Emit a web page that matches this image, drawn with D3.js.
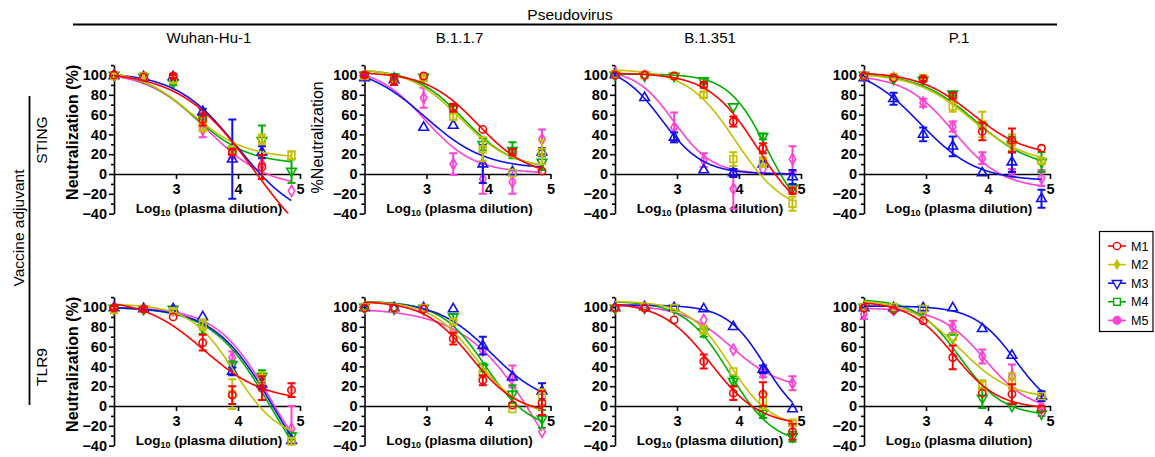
<!DOCTYPE html>
<html>
<head>
<meta charset="utf-8">
<script src="https://cdn.jsdelivr.net/npm/d3@7"></script>
<style>
  body { margin: 0; background: #fff; }
  svg { display: block; }
  text { font-family: Arial, "Liberation Sans", sans-serif; fill: #000; }
</style>
</head>
<body>
<svg id="chart" width="1155" height="457"></svg>
<script>
// log10 of the plasma dilutions (1:100 ... 1:72900, 3-fold steps)
const logDilution = [2, 2.477, 2.954, 3.431, 3.908, 4.386, 4.863];

const seriesNames = ["M1", "M2", "M3", "M4", "M5"];
const seriesColors = ["#ff0000", "#c2c000", "#1010ee", "#00b000", "#ff40d4"];
const plotSymbols = ["circle", "square", "triangleUp", "triangleDown", "diamond"];
const legendSymbols = ["circle", "smallDiamond", "triangleDown", "square", "filledCircle"];

const strainNames = ["Wuhan-Hu-1", "B.1.1.7", "B.1.351", "P.1"];
const adjuvantNames = ["STING", "TLR9"];
const yTicks = [-40, -20, 0, 20, 40, 60, 80, 100];
const yMinorTicks = [-30, -10, 10, 30, 50, 70, 90, 110];
const xTicks = [3, 4, 5];

// Mean % neutralization per mouse (rows M1..M5, columns follow logDilution); null = off scale
const stingWuhanValues = [
  [100, 98, 99, 55, 22, 7, null],
  [99, 99, 95, 48, 25, 35, 19],
  [99, 98, 98, 63, 15, 22, null],
  [100, 98, 92, 57, 24, 34, 3],
  [100, 98, 96, 45, 20, 10, -17]
];
const stingWuhanErrors = [
  [0, 0, 2, 6, 3, 12, 0],
  [2, 2, 3, 5, 3, 5, 4],
  [2, 0, 3, 3, 40, 6, 0],
  [0, 0, 2, 4, 3, 15, 12],
  [0, 0, 0, 8, 4, 0, 0]
];
// 4-parameter logistic fits: [top, bottom, logIC50, hill slope]
const stingWuhanFits = [
  [104, -100, 4.28, 0.72],
  [106, 16, 3.25, 1.0],
  [103, -50, 4.0, 0.87],
  [105, 10, 3.3, 1.0],
  [104, -14, 3.5, 0.9]
];

const stingB117Values = [
  [100, 95, 99, 67, 45, 22, 3],
  [99, 96, 97, 58, 25, 1, 22],
  [97, 95, 47, 49, 10, 2, 22],
  [100, 98, 98, 66, 30, 24, 12],
  [99, 97, 77, 10, -5, -8, 35]
];
const stingB117Errors = [
  [2, 5, 0, 4, 0, 3, 0],
  [3, 3, 2, 3, 12, 0, 12],
  [2, 0, 0, 0, 19, 0, 4],
  [3, 3, 0, 3, 6, 8, 8],
  [0, 0, 10, 11, 15, 12, 10]
];
const stingB117Fits = [
  [103, -3, 3.83, 1.05],
  [107, 5, 3.55, 1.05],
  [110, 5, 2.98, 0.9],
  [106, 5, 3.6, 1.1],
  [108, 1, 2.98, 1.1]
];

const stingB1351Values = [
  [100, 100, 99, 90, 53, 26, -17],
  [101, 100, 99, 80, 15, 12, -30],
  [100, 77, 37, 4, 1, 10, -3],
  [100, 100, 99, 94, 68, 38, -14],
  [102, 99, 47, 14, -15, 5, 15]
];
const stingB1351Errors = [
  [0, 0, 0, 3, 5, 5, 3],
  [0, 0, 0, 3, 7, 5, 7],
  [2, 0, 5, 0, 4, 3, 7],
  [0, 0, 0, 3, 0, 3, 0],
  [0, 0, 15, 7, 20, 0, 13]
];
const stingB1351Fits = [
  [102, -50, 4.3, 1.1],
  [106, -40, 3.95, 1.1],
  [110, 0, 2.75, 1.3],
  [101, -50, 4.45, 1.4],
  [106, 0, 2.95, 1.4]
];

const stingP1Values = [
  [99, 97, 96, 79, 43, 34, 26],
  [99, 98, 97, 68, 50, 32, 13],
  [97, 76, 40, 28, 1, 12, -25],
  [100, 96, 95, 81, 48, 30, 12],
  [99, 97, 72, 48, 16, 1, -4]
];
const stingP1Errors = [
  [0, 0, 2, 3, 9, 12, 0],
  [0, 0, 2, 5, 13, 8, 3],
  [0, 6, 7, 10, 0, 10, 9],
  [0, 0, 2, 2, 0, 8, 10],
  [0, 0, 4, 5, 6, 4, 8]
];
const stingP1Fits = [
  [103, 18, 3.75, 1.0],
  [102, 10, 3.72, 0.95],
  [110, -7, 2.9, 0.95],
  [102, 5, 3.8, 0.95],
  [100, -15, 3.45, 1.1]
];

const tlr9WuhanValues = [
  [99, 98, 90, 64, 11, 18, 16],
  [97, 98, 96, 82, 12, 28, -36],
  [99, 98, 98, 90, 35, 22, -35],
  [99, 98, 98, 79, 42, 30, -30],
  [99, 98, 97, 80, 49, 25, -23]
];
const tlr9WuhanErrors = [
  [2, 2, 0, 8, 9, 12, 7],
  [3, 0, 2, 5, 15, 6, 4],
  [0, 0, 2, 0, 4, 5, 0],
  [0, 0, 2, 6, 3, 6, 3],
  [0, 0, 0, 0, 6, 0, 23]
];
const tlr9WuhanFits = [
  [108, 5, 3.45, 0.9],
  [103, -35, 3.95, 1.2],
  [100, -100, 4.56, 0.92],
  [100, -100, 4.52, 0.92],
  [100, -85, 4.52, 1.0]
];

const tlr9B117Values = [
  [99, 99, 98, 68, 26, 1, 3],
  [100, 99, 99, 85, 33, -3, 9],
  [99, 99, 99, 98, 61, 29, 15],
  [100, 99, 99, 90, 39, 12, -13],
  [99, 98, 98, 77, 56, 30, -26]
];
const tlr9B117Errors = [
  [0, 0, 0, 6, 5, 0, 12],
  [0, 0, 0, 3, 0, 0, 8],
  [0, 0, 0, 0, 9, 0, 8],
  [0, 0, 0, 3, 4, 9, 9],
  [0, 0, 0, 0, 0, 11, 0]
];
const tlr9B117Fits = [
  [106, -8, 3.72, 1.15],
  [106, -10, 3.8, 1.2],
  [106, 0, 4.05, 1.0],
  [106, -25, 3.95, 1.2],
  [99, -150, 4.86, 0.72]
];

const tlr9B1351Values = [
  [99, 99, 87, 45, 13, 12, -26],
  [99, 100, 99, 77, 35, 5, -17],
  [99, 100, 99, 98, 80, 37, -3],
  [99, 100, 99, 75, 25, -7, -31],
  [99, 99, 99, 87, 57, 33, 23]
];
const tlr9B1351Errors = [
  [0, 0, 0, 7, 7, 12, 8],
  [0, 0, 0, 4, 0, 8, 3],
  [0, 0, 0, 0, 0, 4, 0],
  [0, 0, 0, 5, 5, 5, 5],
  [0, 0, 0, 0, 0, 4, 7]
];
const tlr9B1351Fits = [
  [105, -20, 3.55, 1.1],
  [106, -22, 3.85, 1.3],
  [102, -20, 4.42, 1.4],
  [106, -40, 3.85, 1.2],
  [102, 17, 3.88, 1.1]
];

const tlr9P1Values = [
  [99, 97, 86, 49, 13, 12, -3],
  [100, 100, 98, 70, 21, 25, 10],
  [99, 99, 99, 99, 78, 51, 10],
  [100, 99, 98, 69, 8, 0, -8],
  [93, 97, 92, 80, 50, 30, 0]
];
const tlr9P1Errors = [
  [0, 0, 0, 12, 0, 10, 0],
  [0, 0, 0, 0, 5, 8, 0],
  [0, 0, 0, 0, 0, 0, 5],
  [0, 0, 0, 0, 10, 0, 0],
  [5, 0, 0, 6, 7, 12, 10]
];
const tlr9P1Fits = [
  [106, -3, 3.45, 1.2],
  [108, 7, 3.55, 1.05],
  [101, -10, 4.45, 1.3],
  [108, -10, 3.55, 1.25],
  [99, -5, 3.95, 1.2]
];

const panelData = [
  [stingWuhanValues, stingWuhanErrors, stingWuhanFits],
  [stingB117Values, stingB117Errors, stingB117Fits],
  [stingB1351Values, stingB1351Errors, stingB1351Fits],
  [stingP1Values, stingP1Errors, stingP1Fits],
  [tlr9WuhanValues, tlr9WuhanErrors, tlr9WuhanFits],
  [tlr9B117Values, tlr9B117Errors, tlr9B117Fits],
  [tlr9B1351Values, tlr9B1351Errors, tlr9B1351Fits],
  [tlr9P1Values, tlr9P1Errors, tlr9P1Fits]
];

// ---------- layout ----------
const svg = d3.select("#chart");
const colLeft = [114, 364.5, 615, 864];
const panelWidth = 186;
const rowZero = [174, 406];
const pxPerUnit = 0.99;

const logistic = (p, x) => p[1] + (p[0] - p[1]) / (1 + Math.pow(10, (x - p[2]) * p[3]));

function symbolPath(kind) {
  const map = {
    circle: [d3.symbolCircle, 42, 0],
    filledCircle: [d3.symbolCircle, 46, 0],
    square: [d3.symbolSquare, 46, 0],
    triangleUp: [d3.symbolTriangle, 40, 0],
    triangleDown: [d3.symbolTriangle, 40, 180],
    diamond: [d3.symbolDiamond, 36, 0],
    smallDiamond: [d3.symbolDiamond, 22, 0]
  };
  const [type, size, rot] = map[kind];
  return { d: d3.symbol().type(type).size(size)(), rot };
}

// ---------- header ----------
svg.append("text").attr("x", 570).attr("y", 20).attr("text-anchor", "middle")
  .style("font-size", "15.5px").text("Pseudovirus");
svg.append("line").attr("x1", 73).attr("x2", 1057).attr("y1", 24.5).attr("y2", 24.5)
  .attr("stroke", "#000").attr("stroke-width", 1.8);

strainNames.forEach((s, i) => {
  svg.append("text").attr("x", colLeft[i] + panelWidth / 2 + 2).attr("y", 43)
    .attr("text-anchor", "middle").style("font-size", "15px").text(s);
});

// ---------- row labels ----------
svg.append("text").attr("transform", "translate(24,228) rotate(-90)")
  .attr("text-anchor", "middle").style("font-size", "15.5px").text("Vaccine adjuvant");
svg.append("line").attr("x1", 29.5).attr("x2", 29.5).attr("y1", 96).attr("y2", 405)
  .attr("stroke", "#000").attr("stroke-width", 1.8);
[140, 367].forEach((cy, i) => {
  svg.append("text").attr("transform", `translate(47,${cy}) rotate(-90)`)
    .attr("text-anchor", "middle").style("font-size", "15.5px").text(adjuvantNames[i]);
});

// ---------- panels ----------
panelData.forEach(([values, errors, fits], pi) => {
  const row = Math.floor(pi / 4), col = pi % 4;
  const left = colLeft[col], zero = rowZero[row];
  const x = d3.scaleLinear().domain([2, 5]).range([left, left + panelWidth]);
  const y = d3.scaleLinear().domain([-40, 110]).range([zero + 40 * pxPerUnit, zero - 110 * pxPerUnit]);
  const g = svg.append("g");

  const clipId = "clip" + pi;
  g.append("clipPath").attr("id", clipId).append("rect")
    .attr("x", x(2) - 6).attr("y", y(110)).attr("width", panelWidth + 12).attr("height", y(-40) - y(110));

  // axes
  const yAxis = g.append("g").attr("transform", `translate(${left},0)`)
    .call(d3.axisLeft(y).tickValues(yTicks).tickSize(5).tickSizeOuter(0).tickPadding(2));
  g.append("g").attr("transform", `translate(${left},0)`)
    .call(d3.axisLeft(y).tickValues(yMinorTicks).tickSize(3).tickSizeOuter(0).tickFormat(""))
    .select(".domain").remove();
  const xAxis = g.append("g").attr("transform", `translate(0,${y(0)})`)
    .call(d3.axisBottom(x).tickValues(xTicks).tickSize(5).tickSizeOuter(0).tickPadding(4.5).tickFormat(d3.format("d")));
  g.selectAll(".domain, .tick line").attr("stroke", "#000").attr("stroke-width", 1.6);
  [yAxis, xAxis].forEach(a => a.selectAll("text")
    .style("font-size", "14.5px").style("font-weight", "bold")
    .style("font-family", "Arial, 'Liberation Sans', sans-serif").attr("fill", "#000"));

  // axis titles
  const xl = g.append("text").attr("x", left + panelWidth / 2 + 2).attr("y", zero + 38.5)
    .attr("text-anchor", "middle").style("font-size", "13.5px").style("font-weight", "bold");
  xl.append("tspan").text("Log");
  xl.append("tspan").attr("dy", 3).style("font-size", "9px").text("10");
  xl.append("tspan").attr("dy", -3).text(" (plasma dilution)");

  if (col === 0) {
    g.append("text").attr("transform", `translate(${left - 42},${(y(-40) + y(110)) / 2 - 7}) rotate(-90)`)
      .attr("dy", "0.35em").attr("text-anchor", "middle")
      .style("font-size", "16px").style("font-weight", "bold").text("Neutralization (%)");
  } else if (pi === 1) {
    g.append("text").attr("transform", `translate(${left - 47},${(y(-40) + y(110)) / 2 - 2}) rotate(-90)`)
      .attr("dy", "0.35em").attr("text-anchor", "middle")
      .style("font-size", "16px").text("%Neutralization");
  }

  const plot = g.append("g").attr("clip-path", `url(#${clipId})`);
  const line = d3.line().x(d => x(d[0])).y(d => y(d[1]));
  const xs = d3.range(2, 4.863 + 1e-9, 0.01);

  // draw M5 first so M1 lies on top
  for (let s = seriesNames.length - 1; s >= 0; s--) {
    const color = seriesColors[s];
    plot.append("path")
      .attr("d", line(xs.map(v => [v, logistic(fits[s], v)])))
      .attr("fill", "none").attr("stroke", color).attr("stroke-width", 1.6);

    const pts = logDilution.map((lx, i) => ({ lx, v: values[s][i], e: errors[s][i] }))
      .filter(p => p.v !== null);

    pts.filter(p => p.e > 0).forEach(p => {
      const eb = plot.append("g").attr("stroke", color).attr("stroke-width", 2);
      eb.append("line").attr("x1", x(p.lx)).attr("x2", x(p.lx)).attr("y1", y(p.v - p.e)).attr("y2", y(p.v + p.e));
      [p.v - p.e, p.v + p.e].forEach(ev => eb.append("line")
        .attr("x1", x(p.lx) - 4).attr("x2", x(p.lx) + 4).attr("y1", y(ev)).attr("y2", y(ev)));
    });

    const sym = symbolPath(plotSymbols[s]);
    plot.selectAll(null).data(pts).enter().append("path")
      .attr("d", sym.d)
      .attr("transform", p => `translate(${x(p.lx)},${y(p.v)}) rotate(${sym.rot})`)
      .attr("fill", "none").attr("stroke", color).attr("stroke-width", 1.6);
  }
});

// ---------- legend ----------
const lg = svg.append("g");
lg.append("rect").attr("x", 1099.5).attr("y", 231.5).attr("width", 53.5).attr("height", 100)
  .attr("fill", "#fff").attr("stroke", "#000").attr("stroke-width", 1.2);
seriesNames.forEach((name, i) => {
  const cy = 246 + i * 18.6;
  const color = seriesColors[i];
  lg.append("line").attr("x1", 1108).attr("x2", 1126).attr("y1", cy).attr("y2", cy)
    .attr("stroke", color).attr("stroke-width", 1.6);
  const kind = legendSymbols[i];
  const sym = symbolPath(kind);
  const filled = kind === "filledCircle" || kind === "smallDiamond";
  lg.append("path").attr("d", sym.d)
    .attr("transform", `translate(1117,${cy}) rotate(${sym.rot})`)
    .attr("fill", filled ? color : "#fff").attr("stroke", color).attr("stroke-width", 1.4);
  lg.append("text").attr("x", 1131).attr("y", cy).attr("dy", "0.36em")
    .style("font-size", "12.5px").text(name);
});
</script>
</body>
</html>
